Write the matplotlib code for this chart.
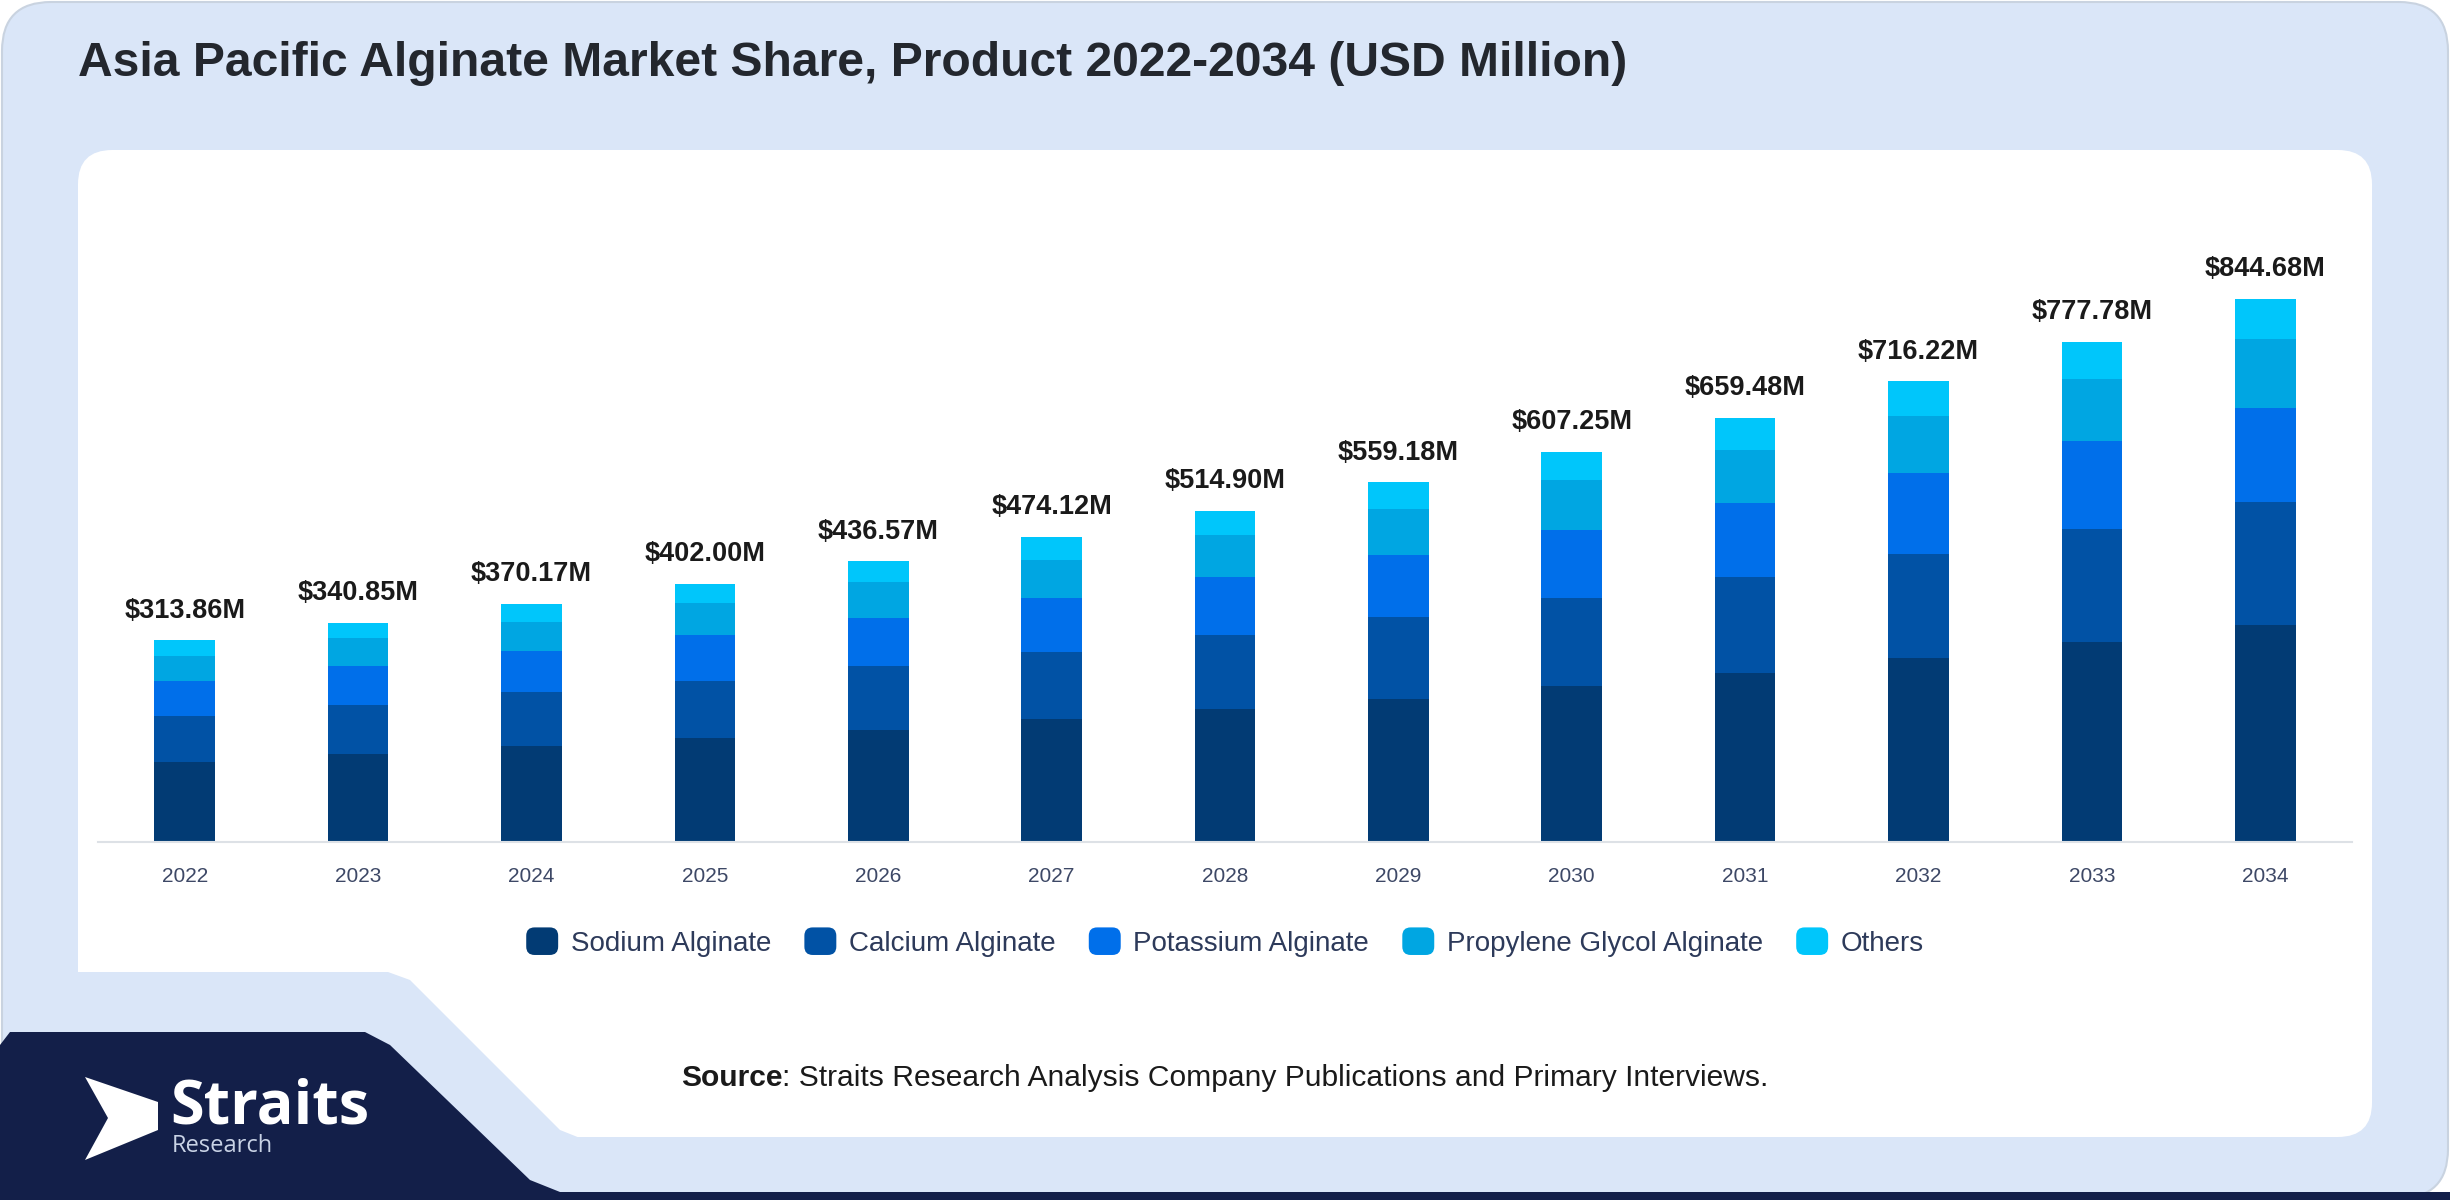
import matplotlib
matplotlib.use("Agg")
import matplotlib.pyplot as plt
from matplotlib.patches import FancyBboxPatch, Polygon, Patch
from matplotlib.legend_handler import HandlerPatch
import numpy as np

years = ["2022", "2023", "2024", "2025", "2026", "2027", "2028",
         "2029", "2030", "2031", "2032", "2033", "2034"]
totals = [313.86, 340.85, 370.17, 402.00, 436.57, 474.12, 514.90,
          559.18, 607.25, 659.48, 716.22, 777.78, 844.68]
sodium = [124.1, 137.3, 149.1, 161.7, 174.1, 191.1, 206.6,
          222.2, 242.9, 263.1, 286.5, 311.7, 337.9]
calcium = [72.4, 76.1, 83.9, 88.9, 99.7, 104.8, 115.2,
           127.6, 137.0, 149.1, 161.2, 174.4, 190.1]
potassium = [54.3, 60.1, 63.7, 70.8, 74.9, 83.7, 89.9,
             97.2, 105.9, 114.7, 126.0, 137.3, 147.7]
pga = [38.8, 43.5, 45.0, 49.6, 55.3, 58.4, 65.1,
       70.8, 76.5, 82.8, 89.5, 96.1, 106.0]
others = [24.3, 23.8, 28.5, 31.0, 32.6, 36.2, 38.2,
          41.3, 45.0, 49.7, 53.1, 58.4, 62.9]
series_names = ["Sodium Alginate", "Calcium Alginate", "Potassium Alginate",
                "Propylene Glycol Alginate", "Others"]
colors = ["#023b74", "#0152a5", "#006fea", "#00a6e2", "#00c6fb"]

W, H = 2450, 1200
fig = plt.figure(figsize=(W / 100, H / 100), dpi=100)
fig.patch.set_facecolor("white")

def px(x, y):
    # pixel coords (from top-left) -> figure fraction
    return x / W, 1 - y / H

def add_patch(p):
    p.set_zorder(-5)
    fig.patches.append(p)

# background panels
add_patch(FancyBboxPatch(px(2, 1198), 2446 / W, 1196 / H,
                         boxstyle="round,pad=0,rounding_size=0.02",
                         transform=fig.transFigure, facecolor="#dae6f8",
                         edgecolor="#c9d3e0", linewidth=1.5, mutation_aspect=W / H))

add_patch(FancyBboxPatch(px(78, 1137), (2372 - 78) / W, (1137 - 150) / H,
                         boxstyle="round,pad=0,rounding_size=0.014",
                         transform=fig.transFigure, facecolor="white",
                         edgecolor="none", mutation_aspect=W / H))

add_patch(Polygon([px(60, 972), px(388, 972), px(410, 980), px(560, 1130),
                   px(585, 1140), px(60, 1140)],
                  closed=True, transform=fig.transFigure,
                  facecolor="#dae6f8", edgecolor="none"))

add_patch(Polygon([px(0, 1045), px(10, 1032), px(365, 1032), px(390, 1045),
                   px(530, 1180), px(560, 1192), px(2450, 1192), px(2450, 1200),
                   px(0, 1200)],
                  closed=True, transform=fig.transFigure,
                  facecolor="#131f49", edgecolor="none"))

# logo
add_patch(Polygon([px(85, 1077), px(158, 1102), px(158, 1130), px(85, 1160),
                   px(108, 1118)],
                  closed=True, transform=fig.transFigure,
                  facecolor="white", edgecolor="none"))
fig.text(*px(170, 1108), "Straits", color="white", fontsize=44,
         fontweight="bold", family="Open Sans", va="center", ha="left")
fig.text(*px(172, 1146), "Research", color="#c9d3e6", fontsize=17,
         family="Open Sans", va="center", ha="left")

# title
fig.text(*px(78, 64), "Asia Pacific Alginate Market Share, Product 2022-2034 (USD Million)",
         fontsize=34.6, fontweight="bold", color="#23272e",
         family="Liberation Sans", va="center", ha="left")

# chart
ax = fig.add_axes([98 / W, 1 - 842 / H, (2352 - 98) / W, (842 - 200) / H])
ax.set_zorder(5)
ax.set_facecolor("none")
x = np.arange(len(years))
bottom = np.zeros(len(years))
for vals, name, c in zip([sodium, calcium, potassium, pga, others], series_names, colors):
    ax.bar(x, vals, width=0.35, bottom=bottom, color=c, label=name, linewidth=0)
    bottom += np.array(vals)

for xi, t in zip(x, totals):
    ax.annotate(f"${t:.2f}M", (xi, t), xytext=(0, 12), textcoords="offset points",
                ha="center", va="bottom", fontsize=19.5, fontweight="bold",
                color="#1a1a1a", family="Liberation Sans")

ax.set_xlim(-0.5, len(years) - 0.5)
ax.set_ylim(0, (842 - 200) / 0.643)
ax.set_xticks(x)
ax.set_xticklabels(years, fontsize=15, color="#3d4866", family="Liberation Sans")
ax.tick_params(axis="x", length=0, pad=18)
ax.set_yticks([])
for s in ["top", "right", "left"]:
    ax.spines[s].set_visible(False)
ax.spines["bottom"].set_color("#dde1e6")
ax.spines["bottom"].set_linewidth(1.5)

def rounded_square(legend, orig_handle, xdescent, ydescent, width, height, fontsize):
    return FancyBboxPatch((-xdescent, -ydescent), width, height,
                          boxstyle="round,pad=0,rounding_size=6")

handles = [Patch(facecolor=c, label=n) for c, n in zip(colors, series_names)]
leg = fig.legend(handles=handles, loc="center", bbox_to_anchor=(0.5, 1 - 942 / H),
                 ncol=5, frameon=False, prop={"family": "Liberation Sans", "size": 20},
                 handlelength=1.15, handleheight=1.15, handletextpad=0.45,
                 columnspacing=1.2,
                 handler_map={Patch: HandlerPatch(patch_func=rounded_square)})
for t in leg.get_texts():
    t.set_color("#2d3a5a")

src = fig.text(*px(681, 1078), "Source", fontsize=21.6, fontweight="bold",
               color="#1a1a1a", family="Liberation Sans", ha="left", va="center")
fig.add_artist(plt.Annotation(": Straits Research Analysis Company Publications and Primary Interviews.",
                              xy=(1, 0), xycoords=src, ha="left", va="bottom",
                              fontsize=21.6, color="#1a1a1a", family="Liberation Sans"))

fig.savefig("out.png", dpi=100, facecolor=fig.get_facecolor())
